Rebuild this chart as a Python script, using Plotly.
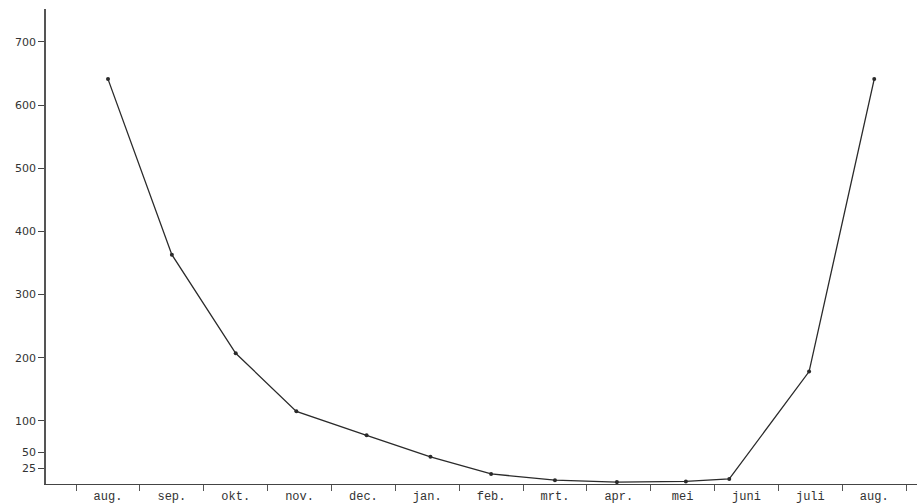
import plotly.graph_objects as go

months = ["aug.", "sep.", "okt.", "nov.", "dec.", "jan.", "feb.", "mrt.", "apr.", "mei", "juni", "juli", "aug."]
month_pos = list(range(len(months)))
x_pos = [0, 1, 2, 2.95, 4.05, 5.05, 6, 7, 7.97, 9.05, 9.73, 10.98, 12]
values = [641, 363, 207, 115, 77, 43, 16, 6, 3, 4, 8, 178, 641]
y_ticks = [25, 50, 100, 200, 300, 400, 500, 600, 700]
sep_ticks = [i - 0.5 for i in range(len(months) + 1)]

fig = go.Figure()
fig.add_trace(go.Scatter(
    x=x_pos, y=values, mode="lines+markers",
    line=dict(color="#2a2a2a", width=1.3),
    marker=dict(color="#2a2a2a", size=4),
    showlegend=False, hoverinfo="skip",
))

fig.update_layout(
    width=917, height=503,
    margin=dict(l=46, r=0, t=9, b=19, autoexpand=False),
    paper_bgcolor="white", plot_bgcolor="white",
    xaxis=dict(
        range=[-0.971, 12.67], showgrid=False, zeroline=False,
        showline=True, linecolor="#444", linewidth=1.3,
        tickmode="array", tickvals=month_pos, ticktext=months, ticks="",
        tickfont=dict(family="Liberation Mono", size=12, color="#333"),
        minor=dict(tickmode="array", tickvals=sep_ticks, ticks="outside",
                   ticklen=6, tickcolor="#555", tickwidth=1, showgrid=False),
        automargin=False, fixedrange=True,
    ),
    yaxis=dict(
        range=[0, 752], showgrid=False, zeroline=False,
        showline=True, linecolor="#555", linewidth=1.5,
        tickmode="array", tickvals=y_ticks, ticks="outside", ticklen=6,
        tickcolor="#444", tickwidth=1.2,
        tickfont=dict(family="DejaVu Sans", size=11, color="#333"),
        automargin=False, fixedrange=True,
    ),
)

fig.write_html(
    "out.html",
    config={"displayModeBar": False},
    post_script="document.body.style.margin='0';document.body.style.overflow='hidden';",
)
